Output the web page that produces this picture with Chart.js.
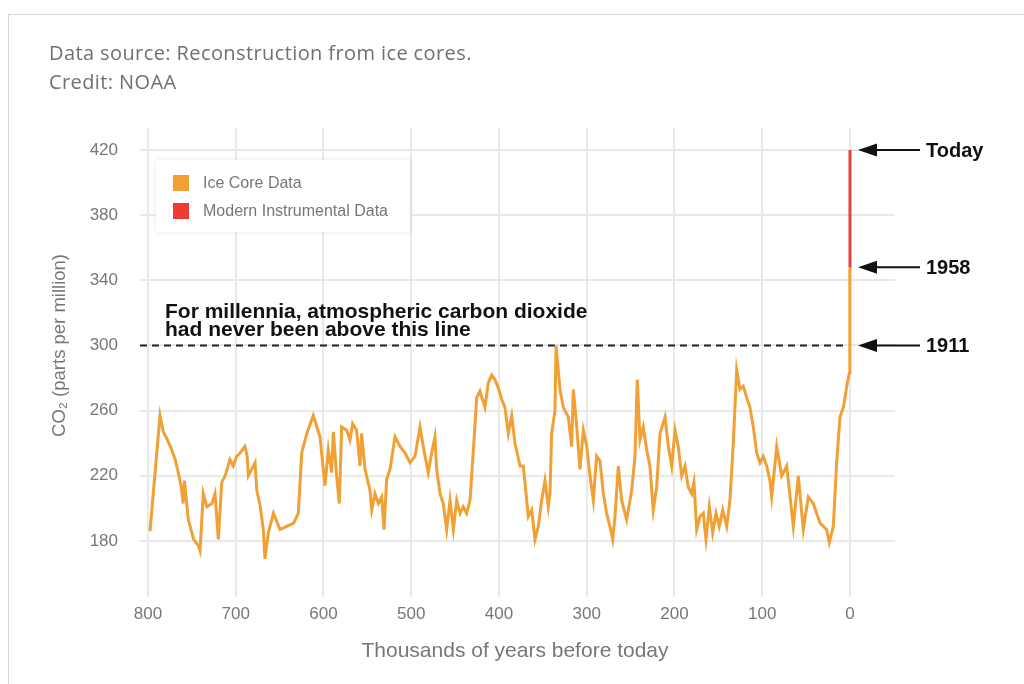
<!DOCTYPE html>
<html>
<head>
<meta charset="utf-8">
<script src="https://cdn.jsdelivr.net/npm/chart.js@4.4.1/dist/chart.umd.min.js"></script>
<style>
  body { margin: 0; background: #fff; width: 1024px; height: 684px; overflow: hidden; position: relative; }
  #frame { position: absolute; left: 8px; top: 14px; width: 1100px; height: 800px; border: 1px solid #d6d6d6; }
  #chart { position: absolute; left: 0; top: 0; }
  #source { position: absolute; left: 49px; top: 38px; font-family: "Open Sans", sans-serif; font-size: 20px; letter-spacing: 0.4px; line-height: 29px; color: #707070; }
  #legend { position: absolute; left: 156px; top: 160px; width: 254px; height: 72px; background: #fff; box-shadow: 0 0 5px rgba(0,0,0,0.10); }
  .item { position: absolute; left: 17px; height: 16px; font-family: "Liberation Sans", Arial, sans-serif; font-size: 16px; line-height: 16px; color: #777; white-space: nowrap; }
  .item span { display: inline-block; width: 16px; height: 16px; vertical-align: top; margin-right: 14px; }
</style>
</head>
<body>
<div id="frame"></div>
<canvas id="chart" width="1024" height="684"></canvas>
<div id="source">Data source: Reconstruction from ice cores.<br>Credit: NOAA</div>
<div id="legend">
  <div class="item" style="top:15px"><span style="background:#f0a035"></span>Ice Core Data</div>
  <div class="item" style="top:43px"><span style="background:#ee3b36"></span>Modern Instrumental Data</div>
</div>
<script>
// thousands of years before today / CO2 ppm
var iceAge = [797.7, 786.3, 782.5, 778.7, 773, 769, 765.5, 762, 760, 758.5, 754, 748, 742.5, 740.7, 737, 733, 727, 723.6, 719.8, 716, 712, 706.6, 702.8, 699, 695, 689.5, 687, 685.6, 678, 676, 672, 668.6, 666.7, 662.9, 657, 649.6, 642, 634, 628.7, 624.8, 619, 611.6, 604, 598.3, 594.5, 590.7, 588.8, 585, 582, 579.3, 573.6, 569.8, 566.8, 562.2, 558.4, 556.5, 552.7, 547, 545, 541.3, 537.4, 533.7, 531, 528, 524.2, 518.5, 512.8, 507, 501.4, 495.7, 490, 486.3, 480.6, 476.7, 473, 471, 467.2, 463.5, 459.6, 455.8, 452, 448.2, 444.4, 440.7, 436.8, 433, 429.3, 425.4, 421.7, 416, 412.2, 408.3, 404.6, 400.8, 397, 393.2, 389.4, 385.5, 381.8, 376, 372.3, 368.4, 366.6, 362.7, 359, 355.2, 351.3, 347.6, 343.8, 341.9, 340, 336.2, 335, 330.5, 326.7, 321, 317.2, 315.3, 311.4, 307.7, 303.9, 300, 296.3, 292.5, 288.7, 284.9, 281.1, 277.3, 273.5, 270.4, 267.8, 264, 260.2, 254.5, 248.8, 245, 242.4, 239.3, 235.6, 231.7, 228, 224.2, 220.3, 216.5, 210.8, 207, 203.2, 199.4, 195.7, 191.8, 188, 184.3, 180.4, 177.8, 174.7, 171, 167.2, 164.1, 160.3, 156.5, 152.7, 149, 145, 140.5, 136.8, 133, 129.1, 125.4, 121.6, 117.7, 114, 110.2, 106.3, 102.6, 98.8, 94.9, 91.2, 89.2, 83.5, 77.8, 72.1, 64.6, 58.9, 53.2, 47.5, 41.8, 34.2, 26.6, 23.6, 19, 15.2, 11.4, 7.6, 5.7, 3.1, 0.8, 0.3, 0.113, 0.066];
var iceCo2 = [186, 257, 247, 243, 236, 230, 222, 213, 203, 217, 193, 181, 177, 174, 209, 201, 203, 209, 181, 216, 220, 230, 226, 232, 234, 238, 232, 220, 228, 211, 201, 187, 169, 185, 197, 187, 189, 191, 197, 234, 246, 257, 244, 214, 236, 222, 247, 220, 203, 250, 248, 242, 252, 248, 226, 246, 224, 211, 199, 209, 203, 207, 187, 218, 224, 244, 238, 234, 228, 232, 250, 238, 222, 234, 244, 224, 209, 203, 187, 205, 187, 205, 197, 201, 197, 205, 235, 268, 272, 262, 277, 282, 279, 274, 267, 262, 246, 257, 240, 226, 226, 205, 195, 199, 181, 189, 205, 217, 201, 209, 246, 260, 300, 273, 262, 256, 238, 273, 250, 224, 248, 238, 220, 205, 232, 229, 209, 197, 189, 181, 195, 226, 205, 193, 211, 232, 279, 242, 250, 236, 226, 199, 213, 246, 256, 238, 226, 248, 238, 220, 226, 213, 209, 216, 187, 195, 197, 181, 201, 185, 197, 189, 199, 189, 205, 240, 285, 273, 275, 268, 262, 250, 234, 228, 232, 226, 217, 207, 238, 220, 226, 189, 220, 187, 207, 203, 191, 187, 179, 189, 228, 256, 262, 268, 277, 283, 284, 300, 348];
var modernAge = [0.066, 0];
var modernCo2 = [348, 420];

var xTicks = [800, 700, 600, 500, 400, 300, 200, 100, 0];
var yTicks = [180, 220, 260, 300, 340, 380, 420];
var marks = [['Today', 420], ['1958', 348], ['1911', 300]];

function pts(xs, ys) {
  return xs.map(function (v, i) { return { x: v, y: ys[i] }; });
}

var notes = {
  id: 'notes',
  beforeDatasetsDraw: function (chart) {
    var ctx = chart.ctx, x = chart.scales.x, y = chart.scales.y;
    var yy = y.getPixelForValue(300);
    ctx.save();
    ctx.strokeStyle = '#222';
    ctx.lineWidth = 2;
    ctx.setLineDash([7, 5]);
    ctx.beginPath();
    ctx.moveTo(chart.chartArea.left, yy);
    ctx.lineTo(x.getPixelForValue(0) - 3, yy);
    ctx.stroke();
    ctx.restore();
  },
  afterDatasetsDraw: function (chart) {
    var ctx = chart.ctx, x = chart.scales.x, y = chart.scales.y;
    var x0 = x.getPixelForValue(0);
    ctx.save();
    // note above the dashed line
    var yy = y.getPixelForValue(300);
    ctx.fillStyle = '#111';
    ctx.font = 'bold 21px "Liberation Sans", Arial, sans-serif';
    ctx.textAlign = 'left';
    ctx.textBaseline = 'alphabetic';
    ctx.fillText('For millennia, atmospheric carbon dioxide', 165, yy - 27);
    ctx.fillText('had never been above this line', 165, yy - 9);
    // arrows on the right
    ctx.font = 'bold 20px "Liberation Sans", Arial, sans-serif';
    ctx.textBaseline = 'middle';
    ctx.strokeStyle = '#111';
    ctx.lineWidth = 2;
    marks.forEach(function (m) {
      var py = y.getPixelForValue(m[1]);
      ctx.beginPath();
      ctx.moveTo(x0 + 26, py);
      ctx.lineTo(x0 + 70, py);
      ctx.stroke();
      ctx.beginPath();
      ctx.moveTo(x0 + 8, py);
      ctx.lineTo(x0 + 27, py - 6.5);
      ctx.lineTo(x0 + 27, py + 6.5);
      ctx.closePath();
      ctx.fill();
      ctx.fillText(m[0], x0 + 76, py + 1);
    });
    // axis titles
    ctx.fillStyle = '#777';
    ctx.font = '21px "Liberation Sans", Arial, sans-serif';
    ctx.textAlign = 'center';
    ctx.fillText('Thousands of years before today', 515, 651);
    ctx.translate(60, (y.getPixelForValue(180) + y.getPixelForValue(420)) / 2);
    ctx.rotate(-Math.PI / 2);
    ctx.font = '18.5px "Liberation Sans", Arial, sans-serif';
    ctx.fillText('CO\u2082 (parts per million)', 0, 0);
    ctx.restore();
  }
};

var ctx = document.getElementById('chart').getContext('2d');
var co2Chart = new Chart(ctx, {
  type: 'line',
  data: {
    datasets: [{
      label: 'Ice Core Data',
      data: pts(iceAge, iceCo2),
      borderColor: '#f0a035',
      borderWidth: 3,
      pointRadius: 0,
      tension: 0,
      fill: false
    }, {
      label: 'Modern Instrumental Data',
      data: pts(modernAge, modernCo2),
      borderColor: '#e8403a',
      borderWidth: 3,
      pointRadius: 0,
      tension: 0,
      fill: false
    }]
  },
  options: {
    responsive: false,
    animation: false,
    devicePixelRatio: 1,
    layout: { padding: { left: 50, top: 128, right: 129, bottom: 0 } },
    plugins: { legend: { display: false }, tooltip: { enabled: false } },
    scales: {
      x: {
        type: 'linear',
        reverse: true,
        min: -51.3,
        max: 809.1,
        afterBuildTicks: function (s) { s.ticks = xTicks.map(function (v) { return { value: v }; }); },
        afterFit: function (s) { s.height = 87; },
        ticks: { color: '#777', padding: 7, maxRotation: 0, autoSkip: false, font: { family: '"Liberation Sans", Arial, sans-serif', size: 17 } },
        grid: { color: '#e9e9e9', lineWidth: 2, drawTicks: false },
        border: { display: false }
      },
      y: {
        type: 'linear',
        min: 145.6,
        max: 433.5,
        afterBuildTicks: function (s) { s.ticks = yTicks.map(function (v) { return { value: v }; }); },
        afterFit: function (s) { s.width = 90; },
        ticks: { color: '#777', padding: 22, font: { family: '"Liberation Sans", Arial, sans-serif', size: 17 } },
        grid: { color: '#e9e9e9', lineWidth: 2, drawTicks: false },
        border: { display: false }
      }
    }
  },
  plugins: [notes]
});
</script>
</body>
</html>
